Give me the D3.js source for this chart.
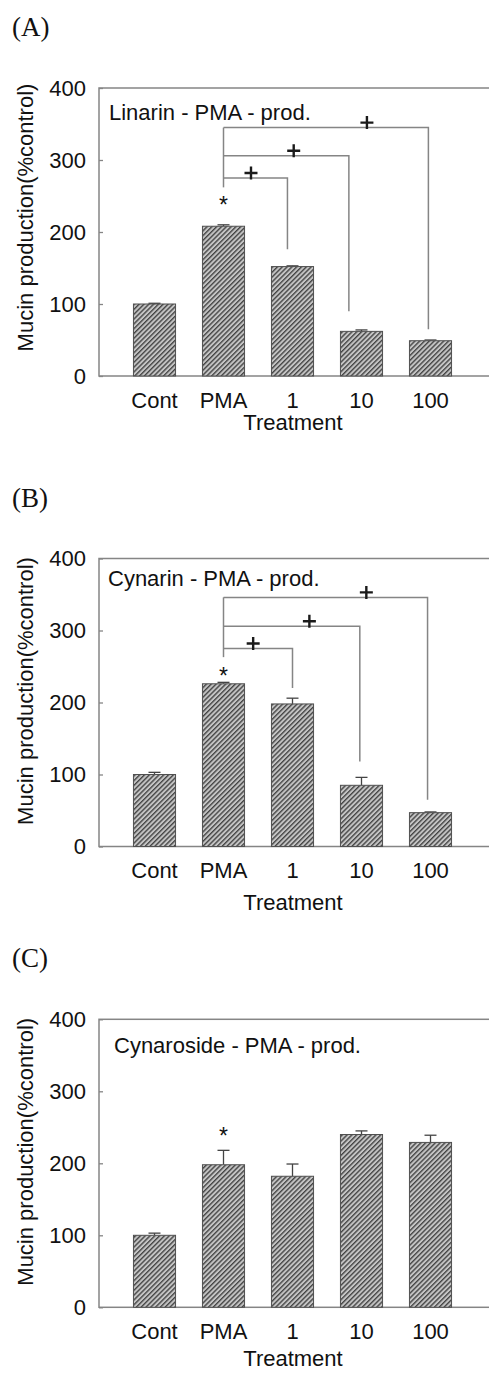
<!DOCTYPE html>
<html>
<head>
<meta charset="utf-8">
<script src="https://cdn.jsdelivr.net/npm/d3@7"></script>
<style>
  body { margin: 0; background: #fff; }
  svg { display: block; }
  text { font-family: "Liberation Sans", Arial, sans-serif; fill: #111; }
</style>
</head>
<body>
<svg id="chart" width="489" height="1374"></svg>
<script>
// data
var categories = ["Cont", "PMA", "1", "10", "100"];
var tickValues = [0, 100, 200, 300, 400];
var panelLetters = ["(A)", "(B)", "(C)"];
var compoundNames = ["Linarin - PMA - prod.", "Cynarin - PMA - prod.", "Cynaroside - PMA - prod."];

var linarinMeans = [100, 208, 152, 62, 49];
var linarinErrors = [1, 2, 1, 2, 1];
var cynarinMeans = [100, 226, 198, 85, 47];
var cynarinErrors = [3, 2, 8, 11, 1];
var cynarosideMeans = [100, 198, 182, 240, 229];
var cynarosideErrors = [3, 20, 17, 5, 10];

// "*" above PMA, in y units
var starLevels = [243, 243, 243];

// "+" brackets from PMA: level of the horizontal, bottom of the drop
var linarinBrackets = [
  {to: "1", level: 275, drop: 176, shift: -0.12, plusAt: 0.43},
  {to: "10", level: 306, drop: 90, shift: -0.30, plusAt: 0.56},
  {to: "100", level: 345, drop: 65, shift: -0.05, plusAt: 0.70}
];
var cynarinBrackets = [
  {to: "1", level: 275, drop: 220, shift: 0, plusAt: 0.43},
  {to: "10", level: 306, drop: 118, shift: -0.04, plusAt: 0.63},
  {to: "100", level: 346, drop: 65, shift: -0.07, plusAt: 0.70}
];
var bracketBases = [262, 263, null];

var means = [linarinMeans, cynarinMeans, cynarosideMeans];
var errors = [linarinErrors, cynarinErrors, cynarosideErrors];
var brackets = [linarinBrackets, cynarinBrackets, []];

// layout of each panel
var panelTops = [88, 558.5, 1019.3];
var noteDy = [32, 27, 34];
var noteX = [109, 108, 114];
var titleCenterDy = [129.5, 132.5, 132.5];
var xTitleDy = [54, 63.5, 58.5];

var plotLeft = 99, plotRight = 520, plotHeight = 288;
var frameColor = "#858585";

var svg = d3.select("#chart");

var defs = svg.append("defs");
var pat = defs.append("pattern")
    .attr("id", "hatch")
    .attr("patternUnits", "userSpaceOnUse")
    .attr("width", 3.4)
    .attr("height", 3.4)
    .attr("patternTransform", "rotate(45)");
pat.append("rect").attr("width", 3.4).attr("height", 3.4).attr("fill", "#c4c4c4");
pat.append("line")
    .attr("x1", 0.7).attr("y1", 0).attr("x2", 0.7).attr("y2", 3.4)
    .attr("stroke", "#3c3c3c").attr("stroke-width", 1.3);

var x = d3.scaleBand()
    .domain(categories)
    .range([120, 465])
    .paddingInner(0.39)
    .paddingOuter(0.195);

var drawPanel = function(p) {
    var top = panelTops[p];
    var y = d3.scaleLinear().domain([0, 400]).range([top + plotHeight, top]);
    var g = svg.append("g").attr("class", "panel");

    g.append("text")
      .attr("x", 12)
      .attr("y", top - 52)
      .style("font-family", "'Liberation Serif', 'Times New Roman', serif")
      .style("font-size", "27px")
      .text(panelLetters[p]);

    // frame (right side runs off the picture)
    g.append("rect")
      .attr("x", plotLeft)
      .attr("y", y(400))
      .attr("width", plotRight - plotLeft)
      .attr("height", y(0) - y(400))
      .attr("fill", "none")
      .attr("stroke", frameColor)
      .attr("stroke-width", 1.5);

    // y axis with inward ticks
    var yAxis = d3.axisLeft(y).tickValues(tickValues).tickSize(-4).tickPadding(13);
    var ya = g.append("g")
      .attr("transform", "translate(" + plotLeft + ",0)")
      .call(yAxis);
    ya.select(".domain").remove();
    ya.selectAll(".tick line").attr("stroke", frameColor).attr("stroke-width", 1.3);
    ya.selectAll(".tick text")
      .style("font-family", "'Liberation Sans', Arial, sans-serif")
      .style("font-size", "22px")
      .attr("fill", "#111");

    // x axis labels only
    var xAxis = d3.axisBottom(x).tickSize(0).tickPadding(16);
    var xa = g.append("g")
      .attr("transform", "translate(0," + y(0) + ")")
      .call(xAxis);
    xa.select(".domain").remove();
    xa.selectAll(".tick text")
      .style("font-family", "'Liberation Sans', Arial, sans-serif")
      .style("font-size", "22px")
      .attr("fill", "#111");

    g.append("text")
      .attr("x", 293)
      .attr("y", y(0) + xTitleDy[p])
      .attr("text-anchor", "middle")
      .style("font-size", "22px")
      .text("Treatment");

    g.append("text")
      .attr("transform", "translate(33," + (top + titleCenterDy[p]) + ") rotate(-90)")
      .attr("text-anchor", "middle")
      .style("font-size", "22px")
      .text("Mucin production(%control)");

    g.append("text")
      .attr("x", noteX[p])
      .attr("y", top + noteDy[p])
      .style("font-size", "22px")
      .text(compoundNames[p]);

    var rows = categories.map(function(c, i) {
        return {cat: c, mean: means[p][i], err: errors[p][i]};
    });

    // error bars (upper half only)
    var eb = g.selectAll(".err").data(rows).enter().append("g").attr("class", "err");
    eb.append("line")
      .attr("x1", function(d) { return x(d.cat) + x.bandwidth() / 2; })
      .attr("x2", function(d) { return x(d.cat) + x.bandwidth() / 2; })
      .attr("y1", function(d) { return y(d.mean); })
      .attr("y2", function(d) { return y(d.mean + d.err); })
      .attr("stroke", "#444").attr("stroke-width", 1.3);
    eb.append("line")
      .attr("x1", function(d) { return x(d.cat) + x.bandwidth() / 2 - 6; })
      .attr("x2", function(d) { return x(d.cat) + x.bandwidth() / 2 + 6; })
      .attr("y1", function(d) { return y(d.mean + d.err); })
      .attr("y2", function(d) { return y(d.mean + d.err); })
      .attr("stroke", "#444").attr("stroke-width", 1.3);

    g.selectAll(".bar").data(rows).enter().append("rect")
      .attr("class", "bar")
      .attr("x", function(d) { return x(d.cat); })
      .attr("width", x.bandwidth())
      .attr("y", function(d) { return y(d.mean); })
      .attr("height", function(d) { return y(0) - y(d.mean); })
      .attr("fill", "url(#hatch)")
      .attr("stroke", "#505050")
      .attr("stroke-width", 1);

    // significance star over PMA
    g.append("text")
      .attr("x", x("PMA") + x.bandwidth() / 2)
      .attr("y", y(starLevels[p]) + 12)
      .attr("text-anchor", "middle")
      .style("font-size", "23px")
      .text("*");

    // brackets
    if (brackets[p].length) {
        var x0 = x("PMA") + x.bandwidth() / 2;
        var topLevel = d3.max(brackets[p], function(d) { return d.level; });
        g.append("line")
          .attr("x1", x0).attr("x2", x0)
          .attr("y1", y(bracketBases[p])).attr("y2", y(topLevel))
          .attr("stroke", frameColor).attr("stroke-width", 1.5);
        brackets[p].forEach(function(b) {
            var x1 = x(b.to) + x.bandwidth() * (0.5 + b.shift);
            g.append("path")
              .attr("d", "M" + x0 + "," + y(b.level) + "H" + x1 + "V" + y(b.drop))
              .attr("fill", "none")
              .attr("stroke", frameColor)
              .attr("stroke-width", 1.5);
            var px = x0 + (x1 - x0) * b.plusAt, py = y(b.level) - 5;
            g.append("path")
              .attr("d", "M" + (px - 6.5) + "," + py + "H" + (px + 6.5) +
                         "M" + px + "," + (py - 6.5) + "V" + (py + 6.5))
              .attr("stroke", "#1a1a1a")
              .attr("stroke-width", 2.4);
        });
    }
};

[0, 1, 2].forEach(drawPanel);
</script>
</body>
</html>
